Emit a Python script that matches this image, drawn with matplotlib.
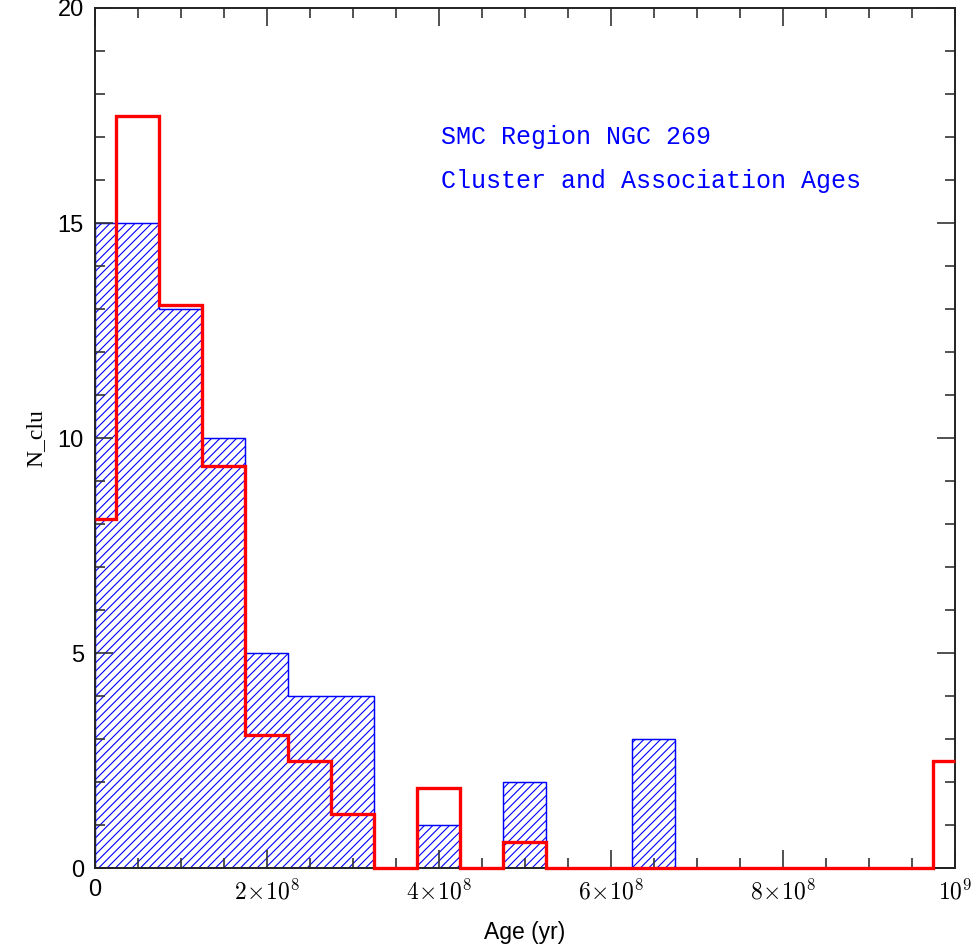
import numpy as np
import matplotlib
matplotlib.use("Agg")
import matplotlib.pyplot as plt

# histogram bins (centres in units of 1e8 yr, width 0.5e8)
bin_centres = np.arange(0, 10.01, 0.5) * 1e8
n_observed = [15, 15, 13, 10, 5, 4, 4, 0, 1, 0, 2, 0, 0, 3, 0, 0, 0, 0, 0, 0, 0]
n_model = [8.12, 17.5, 13.1, 9.36, 3.1, 2.5, 1.25, 0, 1.85, 0, 0.6,
           0, 0, 0, 0, 0, 0, 0, 0, 0, 2.5]
bin_width = 0.5e8

plt.rcParams['mathtext.fontset'] = 'cm'
plt.rcParams['font.family'] = ['Liberation Sans', 'DejaVu Sans']
plt.rcParams['hatch.color'] = 'blue'
plt.rcParams['hatch.linewidth'] = 0.8

fig = plt.figure(figsize=(9.75, 9.52), dpi=100)
ax = fig.add_axes([0.0974, 0.0882, 0.882, 0.9034])

edges = np.clip(np.append(bin_centres - bin_width / 2, bin_centres[-1] + bin_width / 2), 0, 1e9)

# observed histogram: one outline, hatched
ax.stairs(n_observed, edges, fill=True, facecolor='white', edgecolor='blue',
          linewidth=0.9, hatch='////', baseline=0)
ax.stairs(n_observed, edges, color='blue', linewidth=0.9, baseline=0)

ax.stairs(n_model, edges, color='red', linewidth=2.4, baseline=None,
          clip_on=False, zorder=5)

ax.set_xlim(0, 1e9)
ax.set_ylim(0, 20)

ax.set_xticks([0, 2e8, 4e8, 6e8, 8e8, 1e9])
ax.set_xticklabels(['0', r'$2\!\times\!10^8$', r'$4\!\times\!10^8$',
                    r'$6\!\times\!10^8$', r'$8\!\times\!10^8$', r'$10^9$'])
ax.set_xticks(np.arange(0, 1e9 + 1, 0.5e8), minor=True)
ax.set_yticks([0, 5, 10, 15, 20])
ax.set_yticks(np.arange(0, 21, 1), minor=True)

ax.tick_params(which='both', direction='in', top=True, right=True,
               colors='#333333', labelcolor='black', labelsize=17, width=1.2)
ax.tick_params(which='major', length=13, pad=8)
ax.tick_params(which='minor', length=7)
for s in ax.spines.values():
    s.set_linewidth(1.4)
    s.set_color('#222222')

ax.set_xlabel('Age (yr)', fontsize=16.5, labelpad=12)
ax.set_ylabel('N_clu', fontsize=17, family='Liberation Serif', labelpad=8)

ax.text(0.402, 0.842, 'SMC Region NGC 269', transform=ax.transAxes,
        color='blue', fontsize=18, family='Liberation Mono')
ax.text(0.402, 0.791, 'Cluster and Association Ages', transform=ax.transAxes,
        color='blue', fontsize=18, family='Liberation Mono')

plt.savefig('out.png', dpi=100)
plt.close()
